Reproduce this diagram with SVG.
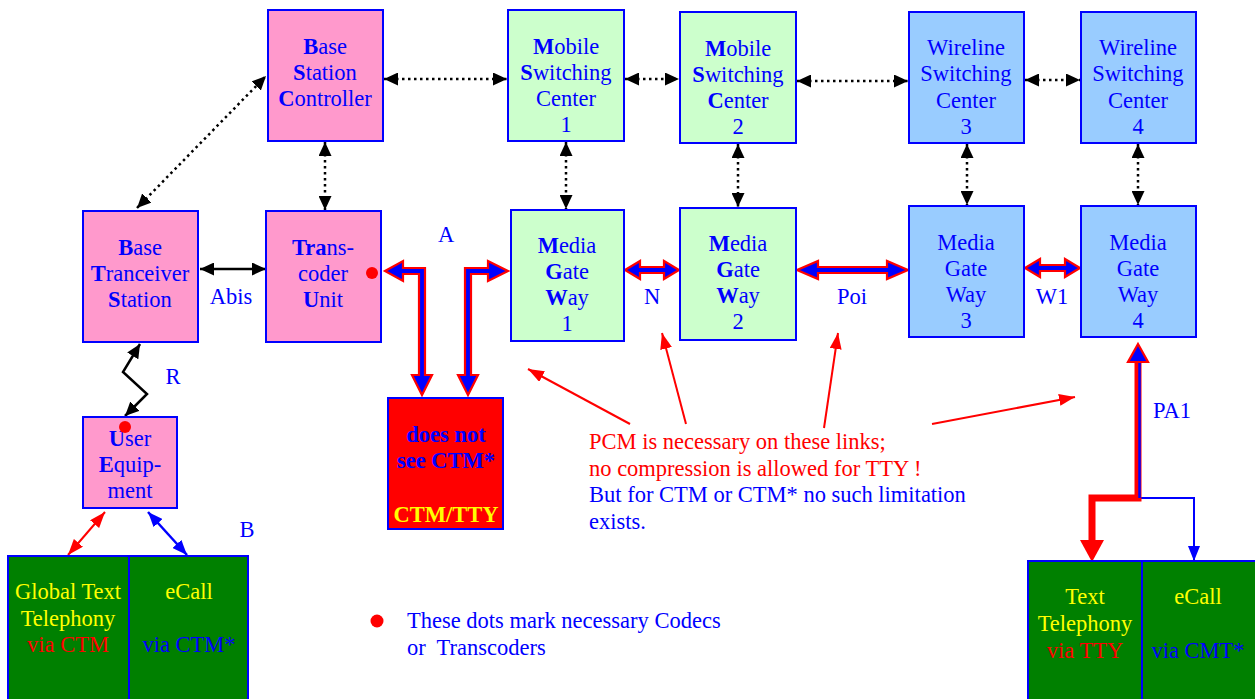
<svg xmlns="http://www.w3.org/2000/svg" width="1255" height="699" viewBox="0 0 1255 699" font-family="'Liberation Serif', 'DejaVu Serif', serif">
<style>
text{font-family:'Liberation Serif','DejaVu Serif','Noto Serif',serif;font-size:22.5px;fill:#0000ff;text-anchor:middle}
.b{font-weight:bold}
.box{stroke:#0000ff;stroke-width:2}
.pink{fill:#ff99cc}.lg{fill:#ccffcc}.lb{fill:#99ccff}.gr{fill:#008000}
.dot{stroke:#000;stroke-width:2.5;stroke-dasharray:2.5 3.5;fill:none}
.sol{stroke:#000;stroke-width:2.5;fill:none}
.rb{fill:#0000ff;stroke:#ff0000;stroke-width:2.2;stroke-linejoin:miter}
.ptr{stroke:#ff0000;stroke-width:2;fill:none}
.y{fill:#ffff00}.r{fill:#ff0000}
.lft{text-anchor:start}
</style>
<defs>
<marker id="mBlk" markerUnits="userSpaceOnUse" markerWidth="14" markerHeight="13" refX="14" refY="6.5" orient="auto-start-reverse"><path d="M0,0 L14,6.5 L0,13 z" fill="#000"/></marker>
<marker id="mRed" markerUnits="userSpaceOnUse" markerWidth="16" markerHeight="12" refX="16" refY="6" orient="auto-start-reverse"><path d="M0,0 L16,6 L0,12 z" fill="#ff0000"/></marker>
<marker id="mBlue" markerUnits="userSpaceOnUse" markerWidth="15" markerHeight="12" refX="15" refY="6" orient="auto-start-reverse"><path d="M0,0 L15,6 L0,12 z" fill="#0000ff"/></marker>
</defs>

<g id="connectors">
<path class="dot" d="M384,79 L507,79" marker-start="url(#mBlk)" marker-end="url(#mBlk)"/>
<path class="dot" d="M625,79 L679,79" marker-start="url(#mBlk)" marker-end="url(#mBlk)"/>
<path class="dot" d="M797,81 L908,81" marker-start="url(#mBlk)" marker-end="url(#mBlk)"/>
<path class="dot" d="M1025,80 L1080,80" marker-start="url(#mBlk)" marker-end="url(#mBlk)"/>
<path class="dot" d="M325,142 L325,210" marker-start="url(#mBlk)" marker-end="url(#mBlk)"/>
<path class="dot" d="M566,142 L566,209" marker-start="url(#mBlk)" marker-end="url(#mBlk)"/>
<path class="dot" d="M738,144 L738,207" marker-start="url(#mBlk)" marker-end="url(#mBlk)"/>
<path class="dot" d="M967,144 L967,205" marker-start="url(#mBlk)" marker-end="url(#mBlk)"/>
<path class="dot" d="M1138,144 L1138,205" marker-start="url(#mBlk)" marker-end="url(#mBlk)"/>
<path class="dot" d="M137,208 L266,76" marker-start="url(#mBlk)" marker-end="url(#mBlk)"/>
<path class="sol" d="M200,269 L266,269" marker-start="url(#mBlk)" marker-end="url(#mBlk)"/>
<path class="sol" d="M140,344 L123,372 L147,394 L125,416" marker-start="url(#mBlk)" marker-end="url(#mBlk)"/>
<path class="rb" d="M625,270 L640,261 L640,267 L664,267 L664,261 L679,270 L664,279 L664,273 L640,273 L640,279 Z"/>
<path class="rb" d="M797,270 L818,261 L818,267 L887,267 L887,261 L908,270 L887,279 L887,273 L818,273 L818,279 Z"/>
<path class="rb" d="M1025,268 L1040,259 L1040,265 L1065,265 L1065,259 L1080,268 L1065,277 L1065,271 L1040,271 L1040,277 Z"/>
<path class="rb" d="M385,271 L403,261 L403,268 L425,268 L425,375 L432,375 L422,395 L412,375 L419,375 L419,274 L403,274 L403,281 Z"/>
<path class="rb" d="M468,395 L458,375 L465,375 L465,268 L488,268 L488,261 L508,271 L488,281 L488,274 L471,274 L471,375 L478,375 Z"/>
<path d="M422,411 L422,420 L468,420 L468,411" stroke="#0000ff" stroke-width="2" fill="none"/>
<path d="M422,398 L429,411 L415,411 Z M468,398 L475,411 L461,411 Z" fill="#0000ff"/>
<path d="M1138,498 L1194,498 L1194,561" stroke="#0000ff" stroke-width="2" fill="none" marker-end="url(#mBlue)"/>
<path d="M1138,360 L1138,498 L1092,498 L1092,542" stroke="#ff0000" stroke-width="7" fill="none"/>
<path d="M1139.5,360 L1139.5,498" stroke="#0000ff" stroke-width="2.5"/>
<path d="M1080,540 L1104,540 L1092,562 Z" fill="#ff0000"/>
<path class="rb" d="M1138,344 L1148,362 L1128,362 Z"/>
<path d="M105,512 L68,555" stroke="#ff0000" stroke-width="2" marker-start="url(#mRed)" marker-end="url(#mRed)"/>
<path d="M148,512 L187,555" stroke="#0000ff" stroke-width="2.5" marker-start="url(#mBlue)" marker-end="url(#mBlue)"/>
<path class="ptr" d="M630,424 L528,369" marker-end="url(#mRed)"/>
<path class="ptr" d="M686,424 L662,333" marker-end="url(#mRed)"/>
<path class="ptr" d="M824,428 L838,333" marker-end="url(#mRed)"/>
<path class="ptr" d="M932,424 L1075,397" marker-end="url(#mRed)"/>
</g>

<g id="bsc"><rect class="box pink" x="268" y="10" width="115" height="131"/>
<text x="325" y="54"><tspan class="b">B</tspan>ase</text><text x="325" y="80"><tspan class="b">S</tspan>tation</text><text x="325" y="106"><tspan class="b">C</tspan>ontroller</text></g>
<g id="msc1"><rect class="box lg" x="508" y="10" width="116" height="131"/>
<text x="566" y="54"><tspan class="b">M</tspan>obile</text><text x="566" y="80"><tspan class="b">S</tspan>witching</text><text x="566" y="106">Center</text><text x="566" y="132">1</text></g>
<g id="msc2"><rect class="box lg" x="680" y="12" width="116" height="131"/>
<text x="738" y="56"><tspan class="b">M</tspan>obile</text><text x="738" y="82"><tspan class="b">S</tspan>witching</text><text x="738" y="108"><tspan class="b">C</tspan>enter</text><text x="738" y="134">2</text></g>
<g id="wsc3"><rect class="box lb" x="909" y="12" width="115" height="131"/>
<text x="966" y="55">Wireline</text><text x="966" y="81">Switching</text><text x="966" y="108">Center</text><text x="966" y="134">3</text></g>
<g id="wsc4"><rect class="box lb" x="1081" y="12" width="115" height="131"/>
<text x="1138" y="55">Wireline</text><text x="1138" y="81">Switching</text><text x="1138" y="108">Center</text><text x="1138" y="134">4</text></g>
<g id="bts"><rect class="box pink" x="83" y="211" width="115" height="131"/>
<text x="140" y="255"><tspan class="b">B</tspan>ase</text><text x="140" y="281"><tspan class="b">T</tspan>ranceiver</text><text x="140" y="307"><tspan class="b">S</tspan>tation</text></g>
<g id="tcu"><rect class="box pink" x="266" y="211" width="115" height="131"/>
<text x="323" y="255"><tspan class="b">Tra</tspan>ns-</text><text x="323" y="281">coder</text><text x="323" y="307"><tspan class="b">U</tspan>nit</text>
<circle cx="372" cy="273" r="6" fill="#ff0000"/></g>
<g id="mgw1"><rect class="box lg" x="511" y="210" width="113" height="131"/>
<text x="567" y="253"><tspan class="b">M</tspan>edia</text><text x="567" y="279"><tspan class="b">G</tspan>ate</text><text x="567" y="305"><tspan class="b">W</tspan>ay</text><text x="567" y="331">1</text></g>
<g id="mgw2"><rect class="box lg" x="680" y="208" width="116" height="132"/>
<text x="738" y="251"><tspan class="b">M</tspan>edia</text><text x="738" y="277"><tspan class="b">G</tspan>ate</text><text x="738" y="303"><tspan class="b">W</tspan>ay</text><text x="738" y="329">2</text></g>
<g id="mgw3"><rect class="box lb" x="909" y="206" width="115" height="131"/>
<text x="966" y="250">Media</text><text x="966" y="276">Gate</text><text x="966" y="302">Way</text><text x="966" y="328">3</text></g>
<g id="mgw4"><rect class="box lb" x="1081" y="206" width="115" height="131"/>
<text x="1138" y="250">Media</text><text x="1138" y="276">Gate</text><text x="1138" y="302">Way</text><text x="1138" y="328">4</text></g>
<g id="ue"><rect class="box pink" x="83" y="417" width="94" height="91"/>
<text x="130" y="446"><tspan class="b">U</tspan>ser</text><text x="130" y="472"><tspan class="b">E</tspan>quip-</text><text x="130" y="498">ment</text>
<circle cx="125" cy="427" r="6" fill="#ff0000"/></g>
<g id="ctmtty"><rect class="box r" x="388" y="398" width="115" height="131"/>
<text class="b" x="446" y="442">does not</text><text class="b" x="446" y="468">see CTM*</text><text class="b y" x="446" y="522">CTM/TTY</text></g>
<g id="terminal-left"><rect class="box gr" x="8" y="556" width="121" height="145"/><rect class="box gr" x="129" y="556" width="119" height="145"/>
<text class="y" x="68" y="599">Global Text</text><text class="y" x="68" y="626">Telephony</text><text class="r" x="68" y="652">via CTM</text>
<text class="y" x="189" y="599">eCall</text><text x="189" y="652">via CTM*</text></g>
<g id="terminal-right"><rect class="box gr" x="1028" y="561" width="114" height="140"/><rect class="box gr" x="1142" y="561" width="115" height="140"/>
<text class="y" x="1085" y="604">Text</text><text class="y" x="1085" y="631">Telephony</text><text class="r" x="1085" y="658">via TTY</text>
<text class="y" x="1198" y="604">eCall</text><text x="1198" y="658">via CMT*</text></g>

<g id="labels">
<text x="446" y="242">A</text><text x="231" y="304">Abis</text><text x="652" y="304">N</text><text x="852" y="304">Poi</text><text x="1052" y="304">W1</text>
<text x="173" y="384">R</text><text x="247" y="537">B</text><text x="1172" y="418">PA1</text>
<text class="lft r" x="589" y="449">PCM is necessary on these links;</text>
<text class="lft r" x="589" y="476">no compression is allowed for TTY !</text>
<text class="lft" x="589" y="502">But for CTM or CTM* no such limitation</text>
<text class="lft" x="589" y="529">exists.</text>
</g>
<g id="legend"><circle cx="377" cy="621" r="6.5" fill="#ff0000"/>
<text class="lft" x="407" y="628">These dots mark necessary Codecs</text>
<text class="lft" x="407" y="655" xml:space="preserve">or  Transcoders</text></g>
</svg>
